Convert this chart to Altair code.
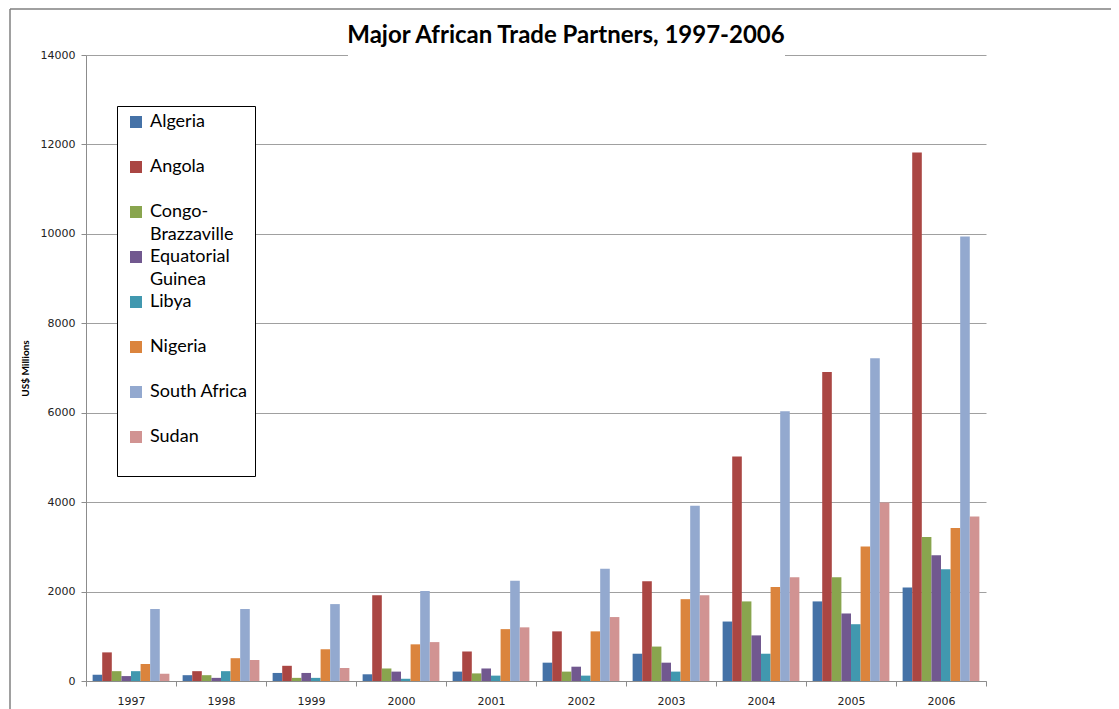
import altair as alt
import pandas as pd

years = ["1997", "1998", "1999", "2000", "2001", "2002", "2003", "2004", "2005", "2006"]
countries = ["Algeria", "Angola", "Congo-Brazzaville", "Equatorial Guinea", "Libya",
             "Nigeria", "South Africa", "Sudan"]
colors = ["#4572A7", "#AA4643", "#89A54E", "#71588F", "#4198AF", "#DB843D", "#93A9CF", "#D19392"]

algeria = [140, 130, 180, 150, 210, 410, 610, 1330, 1780, 2090]
angola = [640, 220, 340, 1920, 660, 1110, 2230, 5020, 6910, 11820]
congo = [220, 130, 70, 280, 170, 210, 770, 1780, 2320, 3220]
eq_guinea = [110, 70, 180, 210, 280, 320, 410, 1020, 1510, 2810]
libya = [220, 220, 70, 50, 120, 120, 210, 610, 1270, 2500]
nigeria = [380, 510, 710, 820, 1160, 1110, 1830, 2100, 3010, 3420]
south_africa = [1610, 1610, 1720, 2010, 2240, 2510, 3920, 6030, 7220, 9940]
sudan = [160, 470, 290, 870, 1200, 1430, 1920, 2320, 3990, 3680]

series = [algeria, angola, congo, eq_guinea, libya, nigeria, south_africa, sudan]
y_ticks = [0, 2000, 4000, 6000, 8000, 10000, 12000, 14000]

rows = []
for c, vals in zip(countries, series):
    for yr, v in zip(years, vals):
        rows.append({"Year": yr, "Country": c, "Value": v})
df = pd.DataFrame(rows)

label_expr = ("datum.label == 'Congo-Brazzaville' ? ['Congo-', 'Brazzaville'] : "
              "datum.label == 'Equatorial Guinea' ? ['Equatorial', 'Guinea'] : "
              "datum.label == 'Sudan' ? ['Sudan', ''] : datum.label")

bars = alt.Chart(df).mark_bar().encode(
    x=alt.X("Year:N", sort=years,
            scale=alt.Scale(paddingInner=0, paddingOuter=0),
            axis=alt.Axis(title=None, labelAngle=0, tickBand="extent", tickSize=5,
                          labelPadding=9, labelFont="DejaVu Sans", labelFontSize=11,
                          labelColor="#222222", domainColor="#8c8c8c", tickColor="#8c8c8c",
                          grid=False)),
    xOffset=alt.XOffset("Country:N", sort=countries,
                        scale=alt.Scale(paddingInner=0, paddingOuter=0.69)),
    y=alt.Y("Value:Q", scale=alt.Scale(domain=[0, 14000], nice=False),
            axis=alt.Axis(title="US$ Millions", values=y_ticks, format="d", tickSize=5,
                          labelPadding=6,
                          labelFont="DejaVu Sans", labelFontSize=11, labelColor="#222222",
                          titleFont="Lato", titleFontSize=10, titleFontWeight="bold",
                          titleColor="black", titlePadding=10,
                          domainColor="#8c8c8c", tickColor="#8c8c8c",
                          gridColor="#a0a0a0", gridWidth=1)),
    color=alt.Color("Country:N", sort=countries,
                    scale=alt.Scale(domain=countries, range=colors),
                    legend=alt.Legend(title=None, orient="none", legendX=31, legendY=51,
                                      direction="vertical", labelFont="Lato", labelFontSize=18,
                                      labelColor="black", labelBaseline="middle",
                                      labelExpr=label_expr, labelLimit=300, labelOffset=5,
                                      symbolType="square", symbolSize=144, symbolStrokeWidth=0,
                                      symbolOffset=3, symbolOpacity=1,
                                      strokeColor="black", fillColor="white", padding=7,
                                      rowPadding=4, gridAlign="all")),
)

deco = pd.DataFrame({"k": [0]})
title_mask = alt.Chart(deco).mark_rect(color="white").encode(
    x=alt.value(262), x2=alt.value(699), y=alt.value(-3), y2=alt.value(3))
top_border = alt.Chart(deco).mark_rule(color="#808080", strokeWidth=1.5).encode(
    x=alt.value(-76), x2=alt.value(1040), y=alt.value(-46))
left_border = alt.Chart(deco).mark_rule(color="#808080", strokeWidth=1.5).encode(
    x=alt.value(-76), y=alt.value(-46), y2=alt.value(660))

chart = alt.layer(title_mask, bars, top_border, left_border).properties(
    width=900, height=626,
    title=alt.TitleParams("Major African Trade Partners, 1997-2006", font="Lato", fontSize=24,
                          fontWeight="bold", color="black", anchor="middle", dx=30,
                          offset=0, dy=40),
    autosize=alt.AutoSizeParams(type="none"),
    padding={"left": 78, "top": 47, "right": 125, "bottom": 34},
).configure(style={"guide-label": {"lineHeight": 23}}).configure_view(stroke=None)

chart.save("out.html", embed_options={"renderer": "svg", "actions": False})
